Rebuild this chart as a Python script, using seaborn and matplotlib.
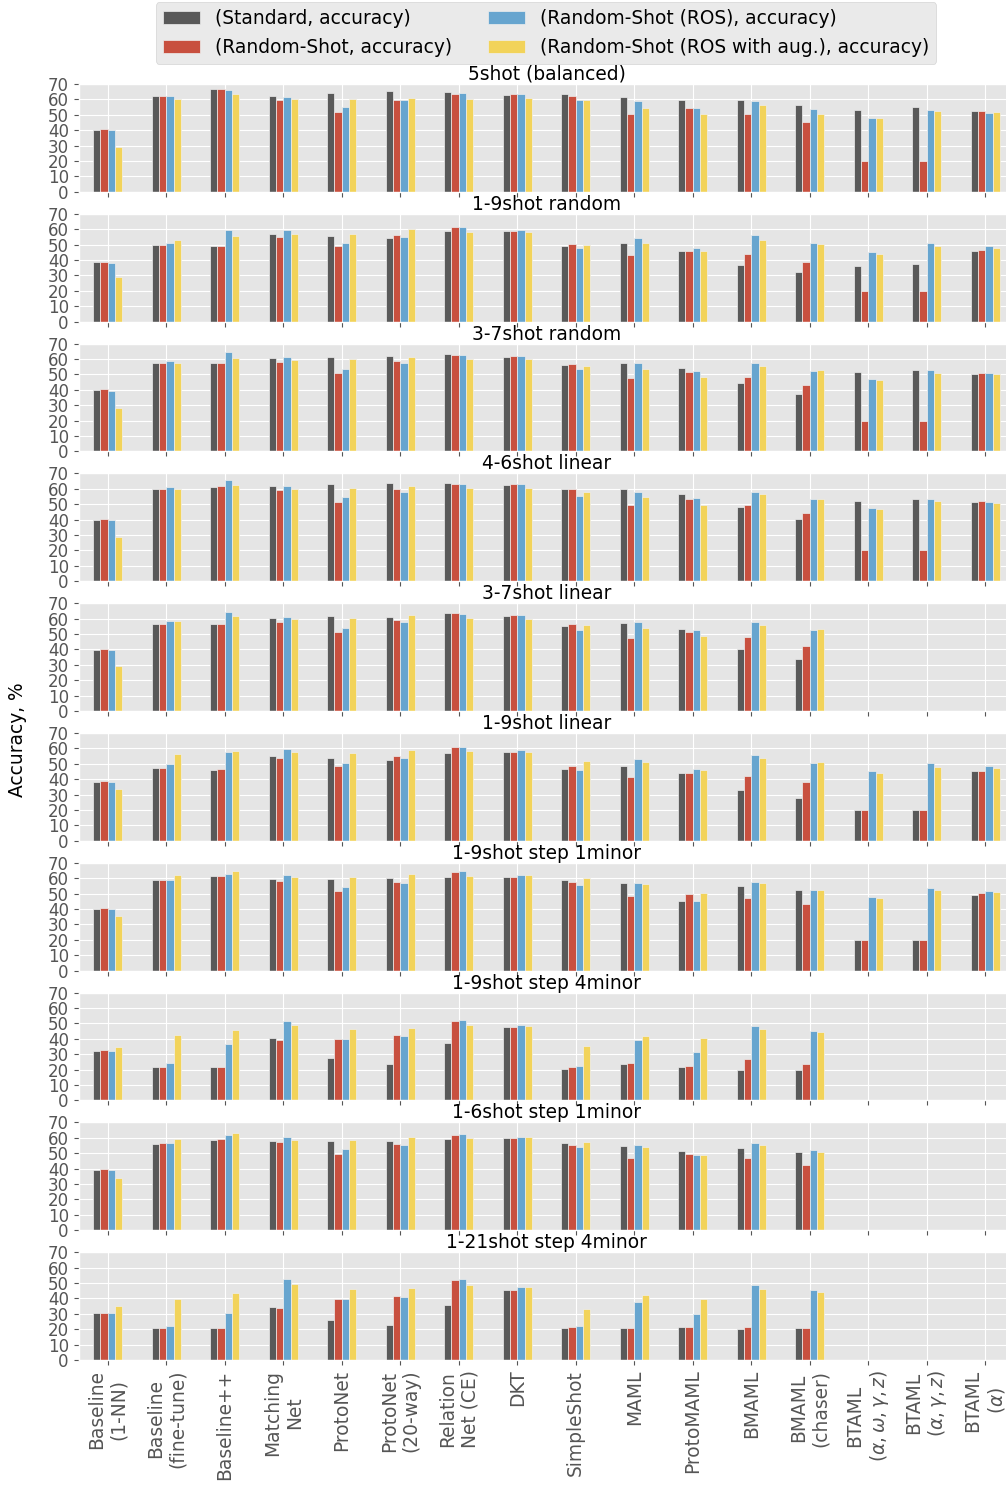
import numpy as np
import pandas as pd
import seaborn as sns
import matplotlib.pyplot as plt

nan = np.nan

methods = ["Baseline\n(1-NN)", "Baseline\n(fine-tune)", "Baseline++", "Matching\nNet",
           "ProtoNet", "ProtoNet\n(20-way)", "Relation\nNet (CE)", "DKT", "SimpleShot",
           "MAML", "ProtoMAML", "BMAML", "BMAML\n(chaser)",
           "BTAML\n$(\\alpha, \\omega, \\gamma, z)$", "BTAML\n$(\\alpha, \\gamma, z)$",
           "BTAML\n$(\\alpha)$"]

series = ["(Standard, accuracy)", "(Random-Shot, accuracy)",
          "(Random-Shot (ROS), accuracy)", "(Random-Shot (ROS with aug.), accuracy)"]
colors = ["#595959", "#c8503f", "#67a5cf", "#f2d35a"]

titles = ["5shot (balanced)", "1-9shot random", "3-7shot random", "4-6shot linear",
          "3-7shot linear", "1-9shot linear", "1-9shot step 1minor", "1-9shot step 4minor",
          "1-6shot step 1minor", "1-21shot step 4minor"]

# rows: standard, random-shot, ROS, ROS with aug.
shot5_balanced = [
    [40.0, 62.5, 66.5, 62.0, 64.3, 65.6, 64.8, 62.8, 63.6, 61.8, 59.8, 59.8, 56.3, 52.9, 54.9, 52.3],
    [41.0, 62.5, 66.7, 59.6, 51.8, 59.6, 63.4, 63.2, 62.0, 50.7, 54.7, 50.7, 45.5, 20.0, 20.0, 52.7],
    [40.0, 62.5, 66.0, 61.6, 55.1, 59.6, 64.0, 63.2, 59.6, 58.9, 54.5, 58.9, 53.6, 47.7, 53.2, 51.4],
    [29.2, 60.1, 63.5, 60.1, 60.1, 61.1, 60.1, 61.1, 59.6, 54.7, 50.5, 56.3, 50.7, 47.9, 52.5, 51.8],
]
shot19_random = [
    [38.4, 49.9, 49.2, 57.1, 55.6, 54.3, 58.9, 58.7, 49.0, 51.0, 45.9, 36.8, 32.0, 36.2, 37.3, 45.9],
    [39.0, 49.9, 49.2, 54.9, 49.2, 56.1, 61.6, 58.9, 50.5, 43.2, 45.9, 43.7, 38.8, 20.0, 20.0, 46.8],
    [38.2, 51.2, 59.6, 59.6, 51.2, 54.9, 61.6, 59.8, 47.7, 54.3, 47.9, 56.1, 51.0, 45.5, 51.0, 49.0],
    [28.9, 53.2, 55.6, 57.1, 57.1, 60.1, 58.2, 58.2, 49.9, 51.2, 45.9, 53.2, 50.5, 44.1, 48.8, 47.7],
]
shot37_random = [
    [39.7, 57.1, 57.1, 60.7, 61.6, 62.0, 63.4, 61.6, 56.3, 57.6, 54.0, 44.5, 37.5, 51.4, 52.9, 50.3],
    [40.6, 57.1, 57.6, 58.2, 51.0, 58.7, 62.8, 62.1, 56.9, 47.7, 51.8, 48.1, 42.8, 20.0, 20.0, 51.2],
    [39.5, 58.7, 64.5, 61.3, 53.8, 57.6, 62.8, 62.1, 53.6, 57.6, 52.5, 57.6, 52.5, 47.2, 52.7, 51.2],
    [28.5, 57.6, 60.5, 59.4, 60.1, 61.6, 60.1, 60.2, 55.6, 53.8, 48.5, 55.6, 52.7, 46.3, 51.0, 50.1],
]
shot46_linear = [
    [39.7, 59.8, 61.1, 61.6, 63.2, 63.9, 64.0, 62.3, 59.8, 60.1, 56.9, 48.3, 40.5, 52.3, 53.6, 51.2],
    [40.5, 60.1, 61.6, 58.9, 51.4, 59.6, 63.4, 62.8, 59.6, 49.2, 53.2, 49.2, 44.1, 20.0, 20.0, 52.3],
    [39.7, 60.9, 65.4, 61.6, 54.5, 58.2, 63.4, 62.8, 55.6, 58.2, 54.3, 58.2, 53.2, 47.7, 53.2, 51.2],
    [28.9, 59.8, 62.3, 59.8, 60.2, 61.6, 60.7, 60.2, 58.0, 54.5, 49.2, 56.3, 53.2, 46.8, 51.8, 50.7],
]
shot37_linear = [
    [39.7, 56.3, 56.3, 60.2, 61.6, 61.3, 63.4, 61.6, 55.1, 56.9, 53.4, 40.1, 34.0, nan, nan, nan],
    [40.5, 56.3, 56.3, 58.0, 51.2, 58.9, 63.4, 62.1, 56.3, 47.2, 51.2, 47.9, 42.3, nan, nan, nan],
    [39.7, 58.2, 64.0, 61.3, 53.8, 57.6, 63.0, 62.1, 52.9, 57.6, 52.9, 57.6, 52.5, nan, nan, nan],
    [28.9, 58.7, 61.6, 59.6, 60.2, 62.1, 60.2, 59.6, 55.6, 53.8, 48.5, 55.6, 53.2, nan, nan, nan],
]
shot19_linear = [
    [37.9, 47.4, 46.1, 54.9, 53.6, 52.5, 56.7, 57.6, 46.8, 48.5, 43.7, 33.3, 28.0, 20.0, 20.0, 45.0],
    [38.8, 47.4, 46.3, 53.8, 48.8, 55.1, 60.9, 57.6, 48.3, 41.7, 44.1, 42.1, 37.9, 20.0, 20.0, 45.2],
    [38.2, 49.9, 57.6, 59.4, 50.5, 53.8, 61.1, 58.9, 46.1, 52.9, 46.6, 55.6, 50.7, 45.4, 50.3, 48.8],
    [33.7, 56.3, 58.5, 57.6, 57.1, 58.7, 58.2, 57.8, 51.8, 51.4, 45.9, 53.6, 51.0, 43.9, 48.1, 47.2],
]
shot19_step1 = [
    [39.9, 58.5, 61.1, 59.4, 59.6, 60.2, 60.5, 60.7, 58.9, 56.9, 45.2, 55.1, 52.3, 20.0, 20.0, 49.4],
    [40.8, 58.9, 61.3, 58.2, 51.4, 57.6, 63.7, 60.9, 57.6, 48.5, 49.9, 47.2, 43.5, 20.0, 20.0, 50.5],
    [40.1, 58.9, 62.8, 62.1, 54.0, 56.9, 64.5, 61.8, 55.8, 56.9, 45.4, 57.6, 52.3, 47.7, 53.6, 51.8],
    [35.3, 62.1, 64.8, 60.7, 60.9, 63.0, 61.6, 62.1, 60.1, 56.5, 50.5, 57.1, 52.5, 47.0, 52.3, 51.2],
]
shot19_step4 = [
    [32.0, 21.4, 21.4, 40.6, 27.4, 23.8, 37.5, 47.7, 20.7, 23.4, 22.0, 20.0, 20.0, nan, nan, nan],
    [32.4, 21.4, 21.4, 39.5, 40.1, 42.6, 51.4, 47.7, 21.4, 24.0, 22.5, 26.9, 23.8, nan, nan, nan],
    [32.0, 24.0, 36.8, 51.8, 40.1, 41.7, 52.5, 49.2, 22.5, 39.5, 31.5, 48.5, 44.8, nan, nan, nan],
    [34.4, 42.6, 45.9, 49.2, 46.6, 47.2, 48.8, 48.5, 35.1, 42.1, 40.4, 46.3, 44.1, nan, nan, nan],
]
shot16_step1 = [
    [39.0, 55.8, 58.7, 58.0, 57.6, 58.2, 58.9, 59.6, 56.7, 54.9, 51.2, 53.2, 51.0, nan, nan, nan],
    [39.9, 56.3, 58.9, 57.1, 49.4, 56.1, 61.8, 59.6, 55.4, 47.0, 49.4, 46.8, 42.6, nan, nan, nan],
    [38.8, 56.3, 61.6, 60.2, 52.5, 55.6, 62.6, 60.2, 53.8, 55.1, 48.5, 56.9, 51.8, nan, nan, nan],
    [33.7, 59.1, 62.8, 58.5, 58.7, 60.2, 59.6, 60.2, 57.1, 53.8, 48.8, 55.6, 50.5, nan, nan, nan],
]
shot121_step4 = [
    [30.2, 20.7, 20.7, 34.6, 25.8, 22.7, 36.0, 45.5, 20.7, 20.7, 21.2, 20.3, 20.7, nan, nan, nan],
    [30.2, 20.7, 20.7, 33.5, 39.9, 41.7, 52.1, 45.4, 21.2, 20.7, 21.2, 21.6, 20.7, nan, nan, nan],
    [30.2, 22.0, 30.2, 52.3, 39.5, 40.8, 52.9, 47.2, 22.0, 37.5, 29.6, 48.5, 45.2, nan, nan, nan],
    [35.1, 39.5, 43.5, 49.2, 45.9, 47.0, 48.5, 47.2, 33.1, 42.1, 39.5, 46.3, 44.1, nan, nan, nan],
]

panels = [shot5_balanced, shot19_random, shot37_random, shot46_linear, shot37_linear,
          shot19_linear, shot19_step1, shot19_step4, shot16_step1, shot121_step4]

plt.style.use("ggplot")
W, H = 1006, 1485
FS = 13.4
fig, axes = plt.subplots(10, 1, figsize=(W / 100, H / 100), sharex=True)
fig.subplots_adjust(left=78.5 / W, right=1014.5 / W, top=1 - 84 / H,
                    bottom=1 - 1360 / H, hspace=22 / 108)

handles, labels = None, None
for i, (ax, vals, title) in enumerate(zip(axes, panels, titles)):
    rows = []
    for s, row in zip(series, vals):
        for m, v in zip(methods, row):
            rows.append((m, s, v))
    df = pd.DataFrame(rows, columns=["method", "series", "acc"]).dropna()

    sns.barplot(data=df, x="method", y="acc", hue="series", order=methods,
                hue_order=series, palette=colors, width=0.5, saturation=1,
                errorbar=None, edgecolor="#EEEEEE", linewidth=0.5, ax=ax,
                legend=(i == 0))
    if i == 0:
        handles, labels = ax.get_legend_handles_labels()
        ax.get_legend().remove()

    ax.set_xlim(-0.5, 15.5)
    ax.set_ylim(0, 70)
    ax.set_yticks(range(0, 71, 10))
    ax.xaxis.grid(True)
    ax.yaxis.grid(True)
    ax.set_title(title, fontsize=FS, pad=1.5)
    ax.set_xlabel("")
    ax.set_ylabel("")
    ax.tick_params(axis="y", labelsize=12)
    if i < len(axes) - 1:
        ax.tick_params(axis="x", labelbottom=False)

axes[-1].set_xticks(range(len(methods)))
axes[-1].set_xticklabels(methods, rotation=90, fontsize=FS, ha="center", va="top",
                         multialignment="center")

fig.text(18 / W, 0.502, "Accuracy, %", rotation=90, fontsize=FS, color="black",
         ha="center", va="center")

fig.legend(handles, labels, loc="upper center", bbox_to_anchor=(546 / W, 1.0),
           ncol=2, fontsize=FS, borderaxespad=0.1, columnspacing=1.9)

fig.savefig("out.png", dpi=100)
